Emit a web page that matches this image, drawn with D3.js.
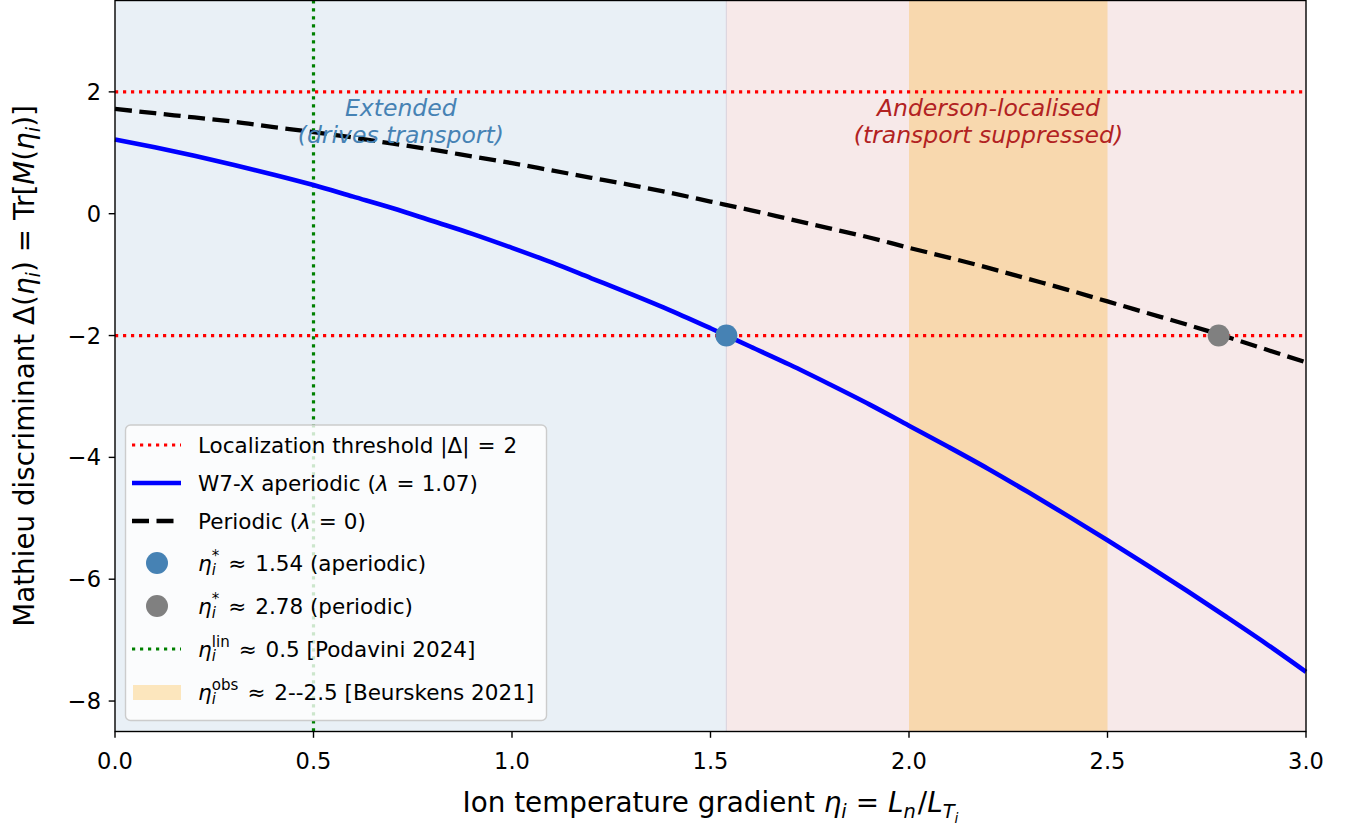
<!DOCTYPE html>
<html>
<head>
<meta charset="utf-8">
<script src="https://cdn.jsdelivr.net/npm/d3@7"></script>
<style>
  body { margin: 0; background: #fff; }
  svg { font-family: "DejaVu Sans", sans-serif; }
</style>
</head>
<body>
<svg width="1358" height="827"></svg>
<script>
// values
var eta = [0.0, 0.1, 0.2, 0.3, 0.4, 0.5, 0.6, 0.7, 0.8, 0.9, 1.0, 1.1, 1.2, 1.3, 1.4, 1.5,
           1.6, 1.7, 1.8, 1.9, 2.0, 2.1, 2.2, 2.3, 2.4, 2.5, 2.6, 2.7, 2.8, 2.9, 3.0];
var deltaAperiodic = [1.22, 1.09, 0.95, 0.80, 0.64, 0.47, 0.28, 0.09, -0.12, -0.33, -0.56, -0.80, -1.06, -1.32, -1.59, -1.88,
                      -2.18, -2.48, -2.80, -3.13, -3.48, -3.83, -4.19, -4.57, -4.96, -5.36, -5.77, -6.19, -6.62, -7.06, -7.52];
var deltaPeriodic = [1.72, 1.65, 1.58, 1.51, 1.42, 1.34, 1.25, 1.15, 1.05, 0.94, 0.83, 0.71, 0.59, 0.47, 0.34, 0.20,
                     0.06, -0.09, -0.24, -0.39, -0.56, -0.72, -0.89, -1.07, -1.25, -1.44, -1.63, -1.82, -2.02, -2.23, -2.44];
var thresholds = [2, -2];
var critAperiodic = [1.54, -2];
var critPeriodic = [2.78, -2];
var etaLin = 0.5;
var etaObs = [2.0, 2.5];
var xTicks = [0, 0.5, 1.0, 1.5, 2.0, 2.5, 3.0];
var yTicks = [-8, -6, -4, -2, 0, 2];

var svg = d3.select('svg');
var margin = {t: 0.5, r: 52, b: 96, l: 115};
var W = 1358, H = 827;

var xScale = d3.scaleLinear().domain([0, 3]).range([margin.l, W - margin.r]);
var yScale = d3.scaleLinear().domain([-8.5, 3.5]).range([H - margin.b + 0.5, margin.t]);

var x0 = xScale(0), x1 = xScale(3), yTop = yScale(3.5), yBot = yScale(-8.5);

// background regions
svg.append('rect').attr('x', x0).attr('y', yTop)
    .attr('width', xScale(critAperiodic[0]) - x0).attr('height', yBot - yTop)
    .attr('fill', '#e9f0f6');
svg.append('rect').attr('x', xScale(critAperiodic[0])).attr('y', yTop)
    .attr('width', x1 - xScale(critAperiodic[0])).attr('height', yBot - yTop)
    .attr('fill', '#f7e9e9');
svg.append('rect').attr('x', xScale(etaObs[0])).attr('y', yTop)
    .attr('width', xScale(etaObs[1]) - xScale(etaObs[0])).attr('height', yBot - yTop)
    .attr('fill', '#f8d8ae');
svg.append('line')
    .attr('x1', xScale(critAperiodic[0])).attr('x2', xScale(critAperiodic[0]))
    .attr('y1', yTop).attr('y2', yBot)
    .attr('stroke', '#ddd5df').attr('stroke-width', 1.2);

var dotDash = '3.2,4.8';

// threshold lines
svg.selectAll('.thr').data(thresholds).enter().append('line')
    .attr('class', 'thr')
    .attr('x1', x0).attr('x2', x1)
    .attr('y1', d => yScale(d)).attr('y2', d => yScale(d))
    .attr('stroke', 'red').attr('stroke-width', 3.2).attr('stroke-dasharray', dotDash);

// linear threshold
svg.append('line')
    .attr('x1', xScale(etaLin)).attr('x2', xScale(etaLin))
    .attr('y1', yBot).attr('y2', yTop)
    .attr('stroke', 'green').attr('stroke-width', 3.2).attr('stroke-dasharray', dotDash);

var line = d3.line().curve(d3.curveMonotoneX)
    .x((d, i) => xScale(eta[i])).y(d => yScale(d));

svg.append('path').attr('d', line(deltaPeriodic))
    .attr('fill', 'none').attr('stroke', 'black').attr('stroke-width', 4.3)
    .attr('stroke-dasharray', '17,7.5');
svg.append('path').attr('d', line(deltaAperiodic))
    .attr('fill', 'none').attr('stroke', 'blue').attr('stroke-width', 4.6);

svg.append('circle').attr('cx', xScale(critAperiodic[0])).attr('cy', yScale(critAperiodic[1]))
    .attr('r', 11).attr('fill', 'steelblue');
svg.append('circle').attr('cx', xScale(critPeriodic[0])).attr('cy', yScale(critPeriodic[1]))
    .attr('r', 11).attr('fill', 'gray');

// region annotations
function note(xv, lines, color) {
  var t = svg.append('text').attr('text-anchor', 'middle')
      .attr('font-style', 'italic').attr('font-size', 23.5).attr('fill', color);
  lines.forEach(function(s, k) {
    t.append('tspan').attr('x', xScale(xv)).attr('y', yScale(1.6) + k * 26.5).text(s);
  });
}
note(0.72, ['Extended', '(drives transport)'], 'steelblue');
note(2.2, ['Anderson-localised', '(transport suppressed)'], 'firebrick');

// mathtext-like helper: parts = [text, {i, sub, sup, dx}]
function mtext(t, parts, fs) {
  var shift = 0;
  parts.forEach(function(p) {
    var o = p[1] || {};
    var target = o.sub ? 0.22 * fs : (o.sup ? -0.42 * fs : 0);
    var ts = t.append('tspan').text(p[0]).attr('dy', target - shift);
    shift = target;
    if (o.i) ts.attr('font-style', 'italic');
    if (o.sub || o.sup) ts.attr('font-size', fs * (o.fs || 0.7));
    if (o.dx) ts.attr('dx', o.dx);
  });
}

// axes frame, ticks
var gx = svg.append('g').attr('transform', 'translate(0,' + yBot + ')');
gx.selectAll('line').data(xTicks).enter().append('line')
    .attr('x1', d => xScale(d)).attr('x2', d => xScale(d))
    .attr('y1', 0).attr('y2', 6.3).attr('stroke', 'black').attr('stroke-width', 1.4);
gx.selectAll('text').data(xTicks).enter().append('text')
    .attr('x', d => xScale(d)).attr('y', 37).attr('text-anchor', 'middle')
    .attr('font-size', 22.5).text(d => d3.format('.1f')(d));

var gy = svg.append('g').attr('transform', 'translate(' + x0 + ',0)');
gy.selectAll('line').data(yTicks).enter().append('line')
    .attr('y1', d => yScale(d)).attr('y2', d => yScale(d))
    .attr('x1', 0).attr('x2', -6.3).attr('stroke', 'black').attr('stroke-width', 1.4);
gy.selectAll('text').data(yTicks).enter().append('text')
    .attr('y', d => yScale(d) + 8).attr('x', -14).attr('text-anchor', 'end')
    .attr('font-size', 22.5).text(d => d3.format('d')(d).replace('-', '\u2212'));

svg.append('rect').attr('x', x0).attr('y', yTop).attr('width', x1 - x0).attr('height', yBot - yTop)
    .attr('fill', 'none').attr('stroke', 'black').attr('stroke-width', 1.4);

// axis labels
var afs = 27.8;
var xl = svg.append('text').attr('x', (x0 + x1) / 2).attr('y', 812)
    .attr('text-anchor', 'middle').attr('font-size', afs);
mtext(xl, [['Ion temperature gradient '], ['\u03b7', {i: 1}], ['i', {i: 1, sub: 1}], ['=', {dx: 9}],
           ['L', {i: 1, dx: 9}], ['n', {i: 1, sub: 1}], ['/', {dx: 2}], ['L', {i: 1}], ['T', {i: 1, sub: 1}]], afs);
// second level subscript of T
xl.append('tspan').text('i').attr('font-style', 'italic').attr('font-size', afs * 0.5).attr('dy', 5);

var yl = svg.append('text').attr('transform', 'translate(34,' + ((yTop + yBot) / 2) + ') rotate(-90)')
    .attr('text-anchor', 'middle').attr('font-size', afs);
mtext(yl, [['Mathieu discriminant \u0394('], ['\u03b7', {i: 1}], ['i', {i: 1, sub: 1}], [')'],
           ['=', {dx: 9}], ['Tr[', {dx: 9}], ['M', {i: 1}], ['('], ['\u03b7', {i: 1}], ['i', {i: 1, sub: 1}], [')]']], afs);

// legend
var lg = svg.append('g');
lg.append('rect').attr('x', 125.5).attr('y', 425).attr('width', 421).attr('height', 295.5)
    .attr('rx', 5).attr('fill', 'white').attr('fill-opacity', 0.8)
    .attr('stroke', '#cccccc').attr('stroke-width', 1.4);

var rows = [445, 483, 521, 563, 606, 649, 692];
var hx0 = 132, hx1 = 181, tx = 198, fs = 21.5;
function lgLine(r, color, w, dash) {
  lg.append('line').attr('x1', hx0).attr('x2', hx1).attr('y1', r).attr('y2', r)
    .attr('stroke', color).attr('stroke-width', w).attr('stroke-dasharray', dash || null);
}
lgLine(rows[0], 'red', 3.2, dotDash);
lgLine(rows[1], 'blue', 4.6);
lgLine(rows[2], 'black', 4.3, '17,7.5');
lg.append('circle').attr('cx', 157).attr('cy', rows[3]).attr('r', 11).attr('fill', 'steelblue');
lg.append('circle').attr('cx', 157).attr('cy', rows[4]).attr('r', 11).attr('fill', 'gray');
lgLine(rows[5], 'green', 3.2, dotDash);
lg.append('rect').attr('x', 133).attr('y', rows[6] - 7).attr('width', 48).attr('height', 15)
    .attr('fill', 'orange').attr('fill-opacity', 0.25);

var approx = function(rest) { return [['\u2248', {dx: 9}], [rest, {dx: 2}]]; };
var labels = [
  [['Localization threshold |\u0394|'], ['=', {dx: 8}], ['2', {dx: 8}]],
  [['W7-X aperiodic ('], ['\u03bb', {i: 1}], ['=', {dx: 8}], ['1.07)', {dx: 7}]],
  [['Periodic ('], ['\u03bb', {i: 1}], ['=', {dx: 8}], ['0)', {dx: 7}]],
  [['\u03b7', {i: 1}], ['i', {i: 1, sub: 1}], ['*', {sup: 1, dx: -4}]].concat(approx(' 1.54 (aperiodic)')),
  [['\u03b7', {i: 1}], ['i', {i: 1, sub: 1}], ['*', {sup: 1, dx: -4}]].concat(approx(' 2.78 (periodic)')),
  [['\u03b7', {i: 1}], ['i', {i: 1, sub: 1}], ['lin', {sup: 1, dx: -4}]].concat(approx(' 0.5 [Podavini 2024]')),
  [['\u03b7', {i: 1}], ['i', {i: 1, sub: 1}], ['obs', {sup: 1, dx: -4}]].concat(approx(' 2--2.5 [Beurskens 2021]'))
];
labels.forEach(function(parts, k) {
  var t = lg.append('text').attr('x', tx).attr('y', rows[k] + 7.5).attr('font-size', fs);
  mtext(t, parts, fs);
});
</script>
</body>
</html>
